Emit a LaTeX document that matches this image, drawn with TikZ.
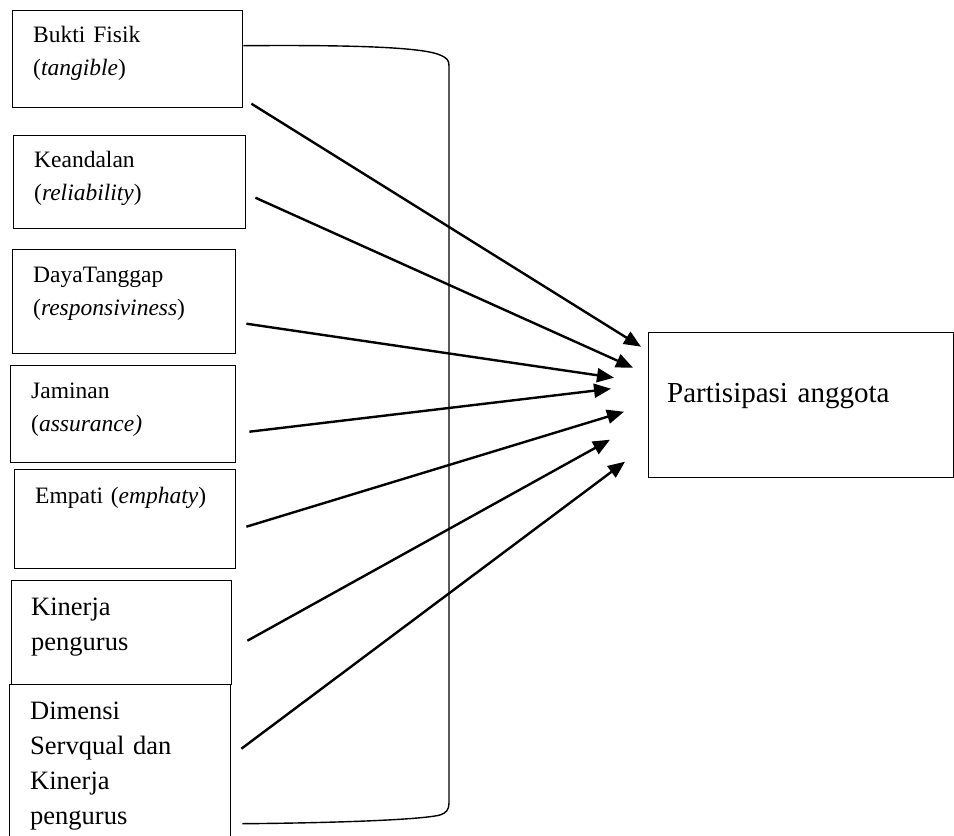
\documentclass[tikz,border=0pt]{standalone}
\usepackage{fontspec}
\setmainfont{Liberation Serif}
\usetikzlibrary{calc,arrows.meta}
\begin{document}
\begin{tikzpicture}[x=1pt,y=-1pt,
  box/.style={draw, line width=1.4pt, inner sep=0pt, anchor=north west},
  lbl/.style={anchor=base west, inner sep=0pt, text width=215pt, align=left},
  small/.style={lbl, font=\fontsize{23.5}{33}\selectfont},
  big/.style={lbl, font=\fontsize{26.5}{35}\selectfont},
  huge/.style={lbl, text width=285pt, font=\fontsize{29}{35}\selectfont},
  arr/.style={line width=2.4pt, -{Triangle[length=17pt,width=14pt]}},
  brk/.style={line width=1.4pt}]
\clip (0,0) rectangle (954,836);
% boxes
\node[box, minimum width=230pt, minimum height=97pt] (b1) at (12,10) {};
\node[box, minimum width=232pt, minimum height=93pt] (b2) at (13,135) {};
\node[box, minimum width=223pt, minimum height=104pt] (b3) at (12,249) {};
\node[box, minimum width=225pt, minimum height=97pt] (b4) at (10,365) {};
\node[box, minimum width=221pt, minimum height=99pt] (b5) at (14,469) {};
\node[box, minimum width=220pt, minimum height=104pt] (b6) at (11,580) {};
\node[box, minimum width=221pt, minimum height=166pt] (b7) at (9,684) {};
\node[box, minimum width=305pt, minimum height=145pt] (P) at (648,332) {};
% labels
\node[small] (t1) at (33,42) {Bukti Fisik\\(\textit{tangible})};
\node[small] (t2) at (34,167) {Keandalan\\(\textit{reliability})};
\node[small] (t3) at (33,282) {DayaTanggap\\(\textit{responsiviness})};
\node[small] (t4) at (31,398) {Jaminan\\(\textit{assurance)}};
\node[small] (t5) at (35,503) {Empati (\textit{emphaty})};
\node[big] (t6) at (31,615) {Kinerja\\pengurus};
\node[big] (t7) at (30,719) {Dimensi\\Servqual dan\\Kinerja\\pengurus};
\node[huge] (tP) at (667,402) {Partisipasi anggota};
% arrows
\draw[arr] ($(b1.east)+(8,44.5)$) -- ($(P.west)+(-7,-58.5)$);
\draw[arr] ($(b2.east)+(9,15.5)$) -- ($(P.west)+(-15,-37.5)$);
\draw[arr] ($(b3.east)+(10,22)$) -- ($(P.west)+(-34,-27.5)$);
\draw[arr] ($(b4.east)+(13,17.5)$) -- ($(P.west)+(-37,-16.5)$);
\draw[arr] ($(b5.east)+(10,7.5)$) -- ($(P.west)+(-24,6.5)$);
\draw[arr] ($(b6.east)+(15,8)$) -- ($(P.west)+(-38,34.5)$);
\draw[arr] ($(b7.east)+(10,-19)$) -- ($(P.west)+(-23,56.5)$);
% bracket
\draw[brk] ($(b1.east)+(0,-13.5)$) .. controls (330,45) and (420,46) .. (440,55)
  .. controls (447,58) and (449,60) .. (449,66) -- (449,803)
  .. controls (449,810) and (446,813) .. (440,815)
  .. controls (420,820) and (330,823) .. ($(b7.east)+(11,56)$);
\end{tikzpicture}
\end{document}
